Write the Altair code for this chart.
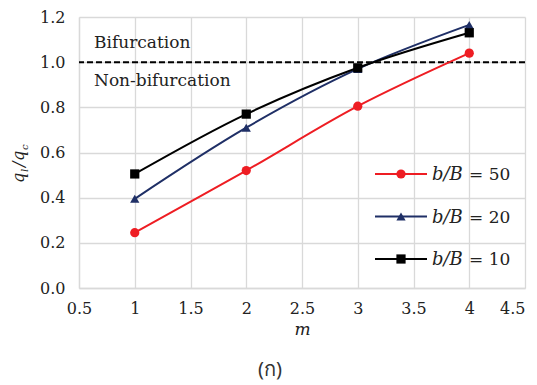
import altair as alt
import pandas as pd

# ---- data ----
m_values = [1, 2, 3, 4]
ratio_b50 = [0.245, 0.52, 0.805, 1.04]
ratio_b20 = [0.395, 0.71, 0.97, 1.165]
ratio_b10 = [0.505, 0.77, 0.975, 1.13]
series_labels = ["b/B = 50", "b/B = 20", "b/B = 10"]
series_values = [ratio_b50, ratio_b20, ratio_b10]
series_colors = ["#ee1d23", "#1f2f66", "#000000"]
series_shapes = ["circle", "triangle-up", "square"]
x_ticks = [0.5, 1, 1.5, 2, 2.5, 3, 3.5, 4, 4.5]
y_ticks = [0.0, 0.2, 0.4, 0.6, 0.8, 1.0, 1.2]
threshold = [1.0]

rows = []
for lab, vals in zip(series_labels, series_values):
    for m, v in zip(m_values, vals):
        rows.append({"m": m, "ratio": v, "series": lab})
df = pd.DataFrame(rows)

W, H = 446, 271
SERIF = "DejaVu Serif"
GRID = "#d9d9d9"
TXT = "#222"

xs = alt.Scale(domain=[0.5, 4.5], nice=False, zero=False)
ys = alt.Scale(domain=[0, 1.2], nice=False)
cs = alt.Scale(domain=series_labels, range=series_colors)
ss = alt.Scale(domain=series_labels, range=series_shapes)

base = alt.Chart(df)

lines = base.mark_line(interpolate="catmull-rom", strokeWidth=2).encode(
    x=alt.X("m:Q", scale=xs,
            axis=alt.Axis(values=x_ticks, format=".1~f", title="m",
                          titleFont=SERIF, titleFontStyle="italic",
                          titleFontWeight="normal", titleFontSize=17,
                          titleColor=TXT, titlePadding=5,
                          labelAlign={"condition": {"test": "datum.value == 4.5", "value": "right"},
                                      "value": "center"})),
    y=alt.Y("ratio:Q", scale=ys,
            axis=alt.Axis(values=y_ticks, format=".1f", title=None)),
    color=alt.Color("series:N", scale=cs, legend=None),
    detail="series:N",
)

points = base.mark_point(filled=True, size=85, opacity=1).encode(
    x=alt.X("m:Q", scale=xs),
    y=alt.Y("ratio:Q", scale=ys),
    color=alt.Color("series:N", scale=cs, legend=None),
    shape=alt.Shape("series:N", scale=ss, legend=None),
)

thr = alt.Chart(pd.DataFrame({"y": threshold})).mark_rule(
    color="black", strokeWidth=2, strokeDash=[6, 3]
).encode(y=alt.Y("y:Q", scale=ys))

ann = pd.DataFrame({"t": ["Bifurcation", "Non-bifurcation"], "py": [31, 69]})
ann_text = alt.Chart(ann).mark_text(
    font=SERIF, fontSize=17, align="left", baseline="alphabetic", color=TXT
).encode(text="t:N", x=alt.value(15), y=alt.Y("py:Q", scale=None))

# y-axis title q_l / q_c built from pieces (rotated)
ytitle_parts = [
    ("q", 16, -55, 166),
    ("l", 10, -51, 155),
    ("/", 16, -55, 150),
    ("q", 16, -55, 144),
    ("c", 10, -51, 133),
]
ytitle_layers = []
for txt, fs, px, py in ytitle_parts:
    ytitle_layers.append(
        alt.Chart(pd.DataFrame({"t": [txt]})).mark_text(
            font=SERIF, fontStyle="italic", fontSize=fs, angle=270,
            align="left", baseline="alphabetic", color=TXT
        ).encode(text="t:N", x=alt.value(px), y=alt.value(py))
    )

# custom legend
legend_layers = []
for i, (lab, col, shp) in enumerate(zip(series_labels, series_colors, series_shapes)):
    ry = 157 + 42.5 * i
    one = pd.DataFrame({"series": [lab]})
    legend_layers.append(
        alt.Chart(one).mark_rule(color=col, strokeWidth=2).encode(
            x=alt.value(296), x2=alt.value(348), y=alt.value(ry)))
    legend_layers.append(
        alt.Chart(one).mark_point(filled=True, size=85, opacity=1, color=col, shape=shp).encode(
            x=alt.value(322), y=alt.value(ry)))
    legend_layers.append(
        alt.Chart(pd.DataFrame({"t": ["b/B"]})).mark_text(
            font=SERIF, fontStyle="italic", fontSize=18, align="left",
            baseline="middle", color=TXT).encode(
            text="t:N", x=alt.value(353), y=alt.value(ry + 1)))
    legend_layers.append(
        alt.Chart(pd.DataFrame({"t": ["= " + lab.split("= ")[1]]})).mark_text(
            font=SERIF, fontSize=17, align="left",
            baseline="middle", color=TXT).encode(
            text="t:N", x=alt.value(390), y=alt.value(ry + 1)))

caption = alt.Chart(pd.DataFrame({"t": ["(ก)"]})).mark_text(
    font="Noto Sans", fontSize=20, align="center", baseline="middle", color="#333"
).encode(text="t:N", x=alt.value(191), y=alt.value(353))

chart = alt.layer(
    thr, lines, points, ann_text, *ytitle_layers, *legend_layers, caption
).properties(
    width=W, height=H,
    autosize=alt.AutoSizeParams(type="none"),
    padding={"left": 71, "top": 9, "right": 4, "bottom": 95},
).configure_view(stroke=None).configure_axis(
    grid=True, gridColor=GRID, gridWidth=1.3, domainColor=GRID, domainWidth=1.3,
    ticks=False, labelFont=SERIF, labelFontSize=16, labelColor=TXT,
).configure_axisX(labelPadding=12, labelFlush=False).configure_axisY(labelPadding=14)

chart.save("out.html", embed_options={"renderer": "svg", "actions": False})
